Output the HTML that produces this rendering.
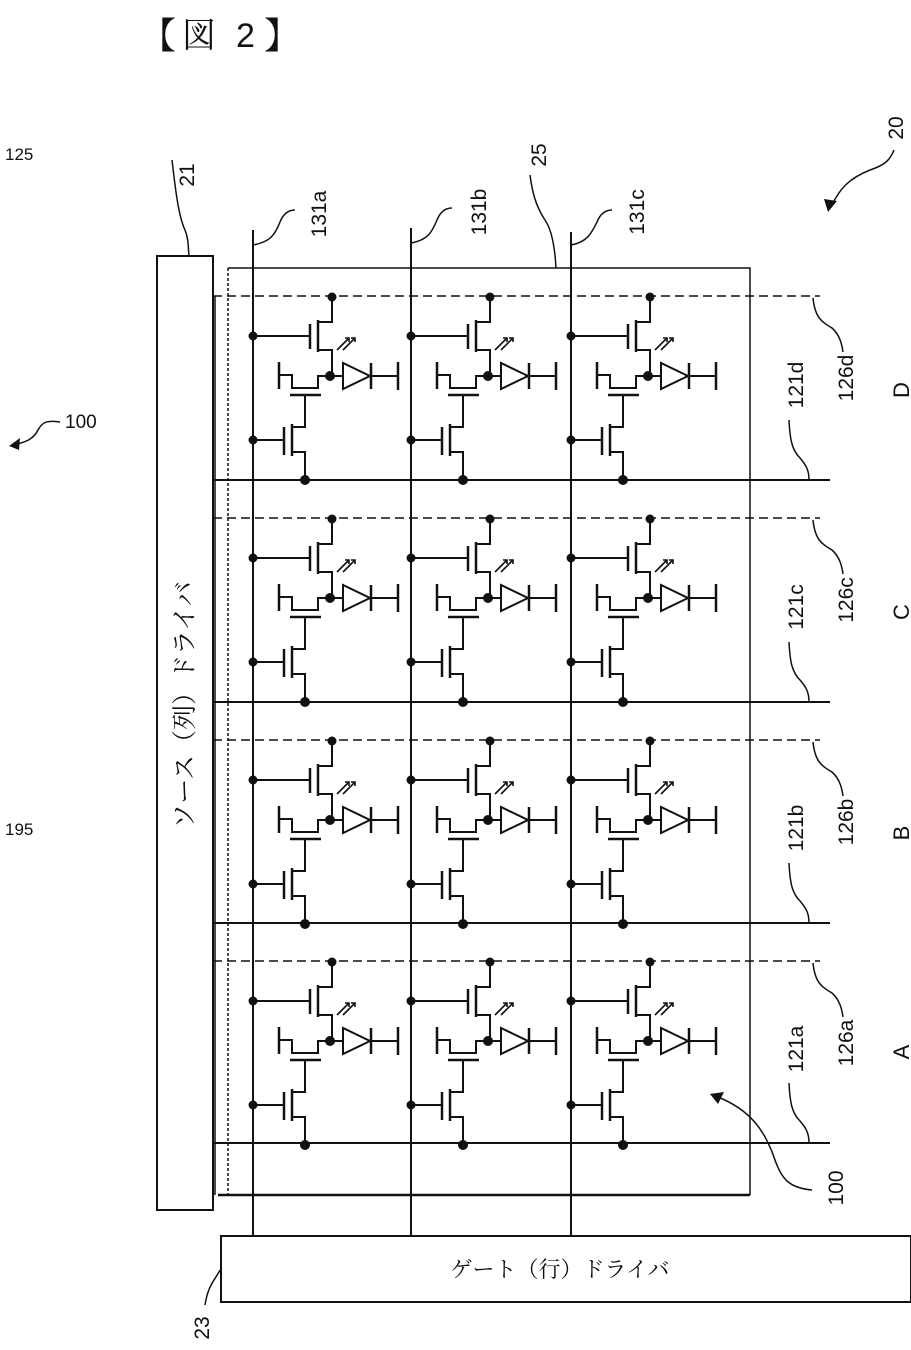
<!DOCTYPE html>
<html><head><meta charset="utf-8"><style>
html,body{margin:0;padding:0;background:#fff;}
svg{display:block}
text{font-family:"Liberation Sans","Noto Sans CJK JP",sans-serif;fill:#111}
.j{font-family:"Liberation Serif","Noto Serif CJK SC","Noto Sans CJK JP",serif}
</style></head><body>
<svg width="911" height="1350" viewBox="0 0 911 1350" xmlns="http://www.w3.org/2000/svg">
<defs>
<g id="cell" fill="none" stroke="#111" stroke-width="2">
  <path d="M79,1 V26 H65 V54 H79 V80"/>
  <path d="M0,40 H57"/><path d="M57,28 V53" stroke-width="2.5"/>
  <path d="M65,24 V56" stroke-width="2.5"/>
  <path d="M77,80 H90"/>
  <path d="M90,67 V93 L117,80 Z"/>
  <path d="M118,67 V93" stroke-width="2.5"/>
  <path d="M118,80 H145"/><path d="M145,66 V94" stroke-width="2.5"/>
  <path d="M77,80 H65 V92 H39 V79 H26"/><path d="M26,66 V93" stroke-width="2.5"/>
  <path d="M37,99 H68" stroke-width="2.5"/>
  <path d="M52,99 V131 H39 V156 H52 V184"/>
  <path d="M39,128 V160" stroke-width="2.5"/>
  <path d="M31,131 V159" stroke-width="2.5"/>
  <path d="M0,144 H31"/>
  <path d="M84,54 L96,42 M90,54 L102,42" stroke-width="1.6"/>
  <path d="M92,42 H96 V46 M98,42 H102 V46" stroke-width="1.6"/>
  <circle cx="79" cy="1" r="3.5" fill="#111"/>
  <circle cx="0" cy="40" r="3.5" fill="#111"/>
  <circle cx="77" cy="80" r="4" fill="#111"/>
  <circle cx="0" cy="144" r="3.5" fill="#111"/>
  <circle cx="52" cy="184" r="4" fill="#111"/>
</g>
</defs>

<!-- title -->
<text x="140" y="48" font-size="36" class="j">【</text>
<text x="182" y="47" font-size="34" class="j">図</text>
<text x="236" y="47" font-size="34">2</text>
<text x="264" y="48" font-size="36" class="j">】</text>

<text x="5" y="160" font-size="17">125</text>
<text x="5" y="835" font-size="17">195</text>
<text x="65" y="428" font-size="19">100</text>
<path d="M60,422 C45,420 42,423 38,430 C33,440 25,442 14,445" fill="none" stroke="#111" stroke-width="1.5"/>
<path d="M9,446 L20,438 L19,450 Z" fill="#111"/>

<!-- source driver -->
<rect x="157" y="256" width="56" height="954" fill="none" stroke="#111" stroke-width="2"/>
<text transform="translate(193,705) rotate(-90)" font-size="25" text-anchor="middle" class="j">ソース（列）ドライバ</text>
<text transform="translate(194,175) rotate(-90)" font-size="21" text-anchor="middle">21</text>
<path d="M172,160 C175,185 178,215 185,230 C189,240 188,248 189,256" fill="none" stroke="#111" stroke-width="1.5"/>

<!-- frame 25 -->
<path d="M228,268 H750 V1195" fill="none" stroke="#111" stroke-width="1.5"/>
<path d="M228,268 V1195" fill="none" stroke="#111" stroke-width="1.5" stroke-dasharray="3 2"/>
<path d="M218,1195 H750" fill="none" stroke="#111" stroke-width="2.5"/>
<path d="M215,296 V1195" fill="none" stroke="#111" stroke-width="1.5"/>

<!-- column lines -->
<g stroke="#111" stroke-width="2" fill="none">
<path d="M253,230 V1235"/><path d="M411,228 V1235"/><path d="M571,232 V1235"/>
</g>
<g stroke="#111" fill="none">
<path d="M213,296 H820" stroke-width="1.5" stroke-dasharray="9 5"/>
<path d="M213,518 H820" stroke-width="1.5" stroke-dasharray="9 5"/>
<path d="M213,740 H820" stroke-width="1.5" stroke-dasharray="9 5"/>
<path d="M213,961 H820" stroke-width="1.5" stroke-dasharray="9 5"/>
<path d="M213,480 H830" stroke-width="2"/>
<path d="M213,702 H830" stroke-width="2"/>
<path d="M213,923 H830" stroke-width="2"/>
<path d="M213,1143 H830" stroke-width="2"/>
</g>

<use href="#cell" x="253" y="296"/><use href="#cell" x="411" y="296"/><use href="#cell" x="571" y="296"/>
<use href="#cell" x="253" y="518"/><use href="#cell" x="411" y="518"/><use href="#cell" x="571" y="518"/>
<use href="#cell" x="253" y="740"/><use href="#cell" x="411" y="740"/><use href="#cell" x="571" y="740"/>
<use href="#cell" x="253" y="961"/><use href="#cell" x="411" y="961"/><use href="#cell" x="571" y="961"/>

<g fill="none" stroke="#111" stroke-width="1.5">
<path d="M253,245 C270,242 275,235 280,222 C284,212 290,210 295,210"/>
<path d="M411,243 C428,240 432,232 437,220 C441,210 447,208 452,208"/>
<path d="M571,245 C588,242 592,232 597,222 C601,212 607,210 612,210"/>
<path d="M530,175 C532,190 535,205 545,220 C552,230 555,250 556,268"/>
<path d="M894,150 C890,160 885,165 870,170 C850,178 840,188 832,205"/>
</g>
<text transform="translate(326,214) rotate(-90)" font-size="21" text-anchor="middle">131a</text>
<text transform="translate(486,212) rotate(-90)" font-size="21" text-anchor="middle">131b</text>
<text transform="translate(644,212) rotate(-90)" font-size="21" text-anchor="middle">131c</text>
<text transform="translate(546,155) rotate(-90)" font-size="21" text-anchor="middle">25</text>
<text transform="translate(903,128) rotate(-90)" font-size="21" text-anchor="middle">20</text>
<path d="M828,212 L824,199 L837,201 Z" fill="#111"/>

<g fill="none" stroke="#111" stroke-width="1.5">
<path d="M813,298 C815,318 822,322 832,328 C840,335 842,345 843,352"/>
<path d="M813,520 C815,540 822,544 832,550 C840,557 842,567 843,574"/>
<path d="M813,742 C815,762 822,766 832,772 C840,779 842,789 843,796"/>
<path d="M813,963 C815,983 822,987 832,993 C840,1000 842,1010 843,1017"/>
<path d="M789,420 C790,440 792,450 800,458 C806,465 809,470 809,480"/>
<path d="M789,642 C790,662 792,672 800,680 C806,687 809,692 809,702"/>
<path d="M789,863 C790,883 792,893 800,901 C806,908 809,913 809,923"/>
<path d="M789,1083 C790,1103 792,1113 800,1121 C806,1128 809,1133 809,1143"/>
<path d="M812,1190 C790,1188 782,1180 775,1160 C765,1130 750,1110 718,1097"/>
<path d="M205,1305 C208,1285 215,1280 220,1270"/>
</g>
<path d="M710,1094 L724,1092 L718,1104 Z" fill="#111"/>
<g font-size="21" text-anchor="middle">
<text transform="translate(853,378) rotate(-90)">126d</text>
<text transform="translate(853,600) rotate(-90)">126c</text>
<text transform="translate(853,822) rotate(-90)">126b</text>
<text transform="translate(853,1043) rotate(-90)">126a</text>
<text transform="translate(803,385) rotate(-90)">121d</text>
<text transform="translate(803,607) rotate(-90)">121c</text>
<text transform="translate(803,828) rotate(-90)">121b</text>
<text transform="translate(803,1049) rotate(-90)">121a</text>
<text transform="translate(909,390) rotate(-90)" font-size="22">D</text>
<text transform="translate(909,612) rotate(-90)" font-size="22">C</text>
<text transform="translate(909,833) rotate(-90)" font-size="22">B</text>
<text transform="translate(909,1052) rotate(-90)" font-size="22">A</text>
<text transform="translate(843,1188) rotate(-90)">100</text>
<text transform="translate(209,1328) rotate(-90)">23</text>
</g>

<rect x="221" y="1236" width="690" height="66" fill="none" stroke="#111" stroke-width="2"/>
<text x="560" y="1277" font-size="22" text-anchor="middle" class="j">ゲート（行）ドライバ</text>
</svg>
</body></html>
